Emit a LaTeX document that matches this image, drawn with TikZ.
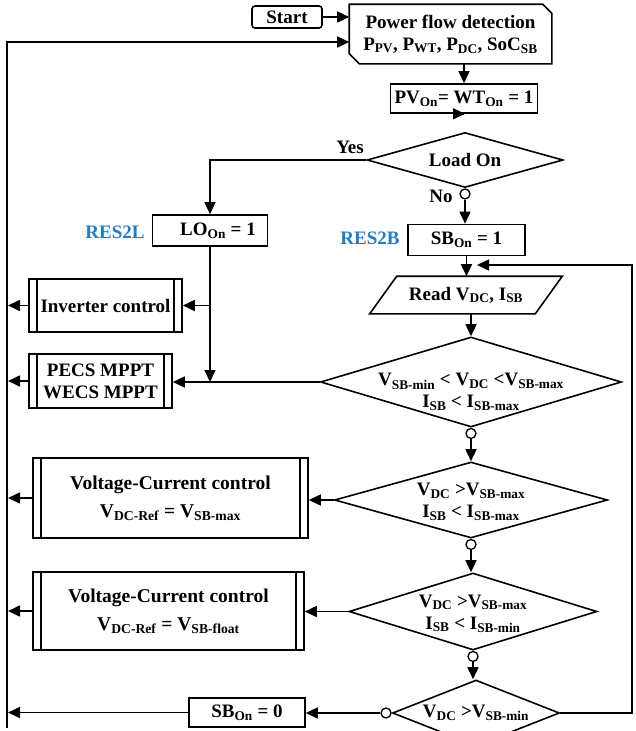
\documentclass[tikz,border=0pt]{standalone}
\usepackage{fontspec}
\setmainfont{Liberation Serif}
\usetikzlibrary{shapes.geometric,arrows.meta}
\definecolor{resblue}{RGB}{32,125,200}
\newcommand{\sbs}[1]{\textsubscript{#1}}
\begin{document}
\begin{tikzpicture}[x=1pt,y=-1pt,
  font=\fontsize{19}{22}\selectfont\bfseries,
  line width=1.6pt,
  arr/.style={-{Triangle[length=12pt,width=11pt]}},
  box/.style={draw, rectangle, inner sep=0pt, align=center},
  pbox/.style={box, path picture={\draw[line width=1.3pt]
      ([xshift=8pt]path picture bounding box.north west) -- ([xshift=8pt]path picture bounding box.south west)
      ([xshift=-8pt]path picture bounding box.north east) -- ([xshift=-8pt]path picture bounding box.south east);}},
  dia/.style={draw, diamond, inner sep=0pt},
  dtext/.style={align=center, inner sep=0pt},
  circ/.style={draw, circle, fill=white, inner sep=0pt, minimum size=10pt, line width=1.3pt},
  lbl/.style={inner sep=0pt},
  blue/.style={text=resblue, inner sep=0pt},
]
\useasboundingbox (0,0) rectangle (635,731);

% top
\node[box, rounded corners=3pt, minimum width=70pt, minimum height=22pt] (start) at (287,17) {Start};
\node[align=center, inner sep=0pt, minimum width=201pt, minimum height=58pt] (pf) at (450.5,34)
  {Power flow detection\\ P\sbs{PV}, P\sbs{WT}, P\sbs{DC}, SoC\sbs{SB}};
\draw (pf.north west) -- ([xshift=-9pt]pf.north east) -- ([yshift=-9pt]pf.north east)
  -- (pf.south east) -- ([xshift=10pt]pf.south west) -- ([yshift=10pt]pf.south west) -- cycle;

\node[box, minimum width=147pt, minimum height=29pt] (pv) at (464,98.5) {PV\sbs{On}= WT\sbs{On} = 1};
\node[dia, minimum width=196pt, minimum height=55pt, label={[lbl]center:Load On}] (load) at (465,160) {};

\node[box, minimum width=115pt, minimum height=31pt] (lo) at (210,230.5) {\hspace{16pt}LO\sbs{On} = 1};
\node[blue] (res2l) at (115,232) {RES2L};
\node[box, minimum width=117pt, minimum height=31pt] (sb) at (466.5,240) {SB\sbs{On} = 1};
\node[blue] (res2b) at (370,238) {RES2B};

\node[inner sep=0pt, minimum width=164pt, minimum height=36pt] (read) at (466,295) {Read V\sbs{DC}, I\sbs{SB}};
\draw ([xshift=13.5pt]read.north west) -- ([xshift=13.5pt]read.north east)
  -- ([xshift=-13.5pt]read.south east) -- ([xshift=-13.5pt]read.south west) -- cycle;

% diamonds
\node[dia, minimum width=301pt, minimum height=90pt] (d1) at (471,382) {};
\node[dtext] (t1) at ([yshift=-10pt]d1) {V\sbs{SB-min} < V\sbs{DC} <V\sbs{SB-max}\\ I\sbs{SB} < I\sbs{SB-max}};
\node[dia, minimum width=273pt, minimum height=76pt] (d2) at (471,500) {};
\node[dtext] (t2) at ([yshift=-2pt]d2) {V\sbs{DC} >V\sbs{SB-max}\\ I\sbs{SB} < I\sbs{SB-max}};
\node[dia, minimum width=248pt, minimum height=77pt] (d3) at (473,611.5) {};
\node[dtext] (t3) at ([yshift=-2pt]d3) {V\sbs{DC} >V\sbs{SB-max}\\ I\sbs{SB} < I\sbs{SB-min}};
\node[dia, minimum width=167pt, minimum height=66pt] (d4) at (476,713) {};
\node[dtext] (t4) at (d4) {V\sbs{DC} >V\sbs{SB-min}};

% left boxes
\node[pbox, minimum width=153pt, minimum height=53pt] (inv) at (105.5,305.5) {Inverter control};
\node[pbox, minimum width=143pt, minimum height=54pt] (pecs) at (100.5,381) {PECS MPPT\\WECS MPPT};
\node[pbox, font=\fontsize{19.5}{28}\selectfont\bfseries, minimum width=275pt, minimum height=80pt] (vc1) at (170.5,498)
  {Voltage-Current control\\ V\sbs{DC-Ref} = V\sbs{SB-max}};
\node[pbox, font=\fontsize{19.5}{28}\selectfont\bfseries, minimum width=271pt, minimum height=78pt] (vc2) at (168.5,611)
  {Voltage-Current control\\ V\sbs{DC-Ref} = V\sbs{SB-float}};
\node[box, minimum width=116pt, minimum height=29pt] (sb0) at (247,712.5) {SB\sbs{On} = 0};

% circles
\node[circ, anchor=north] (c0) at (load.south) {};
\node[circ, anchor=north] (c1) at (d1.south) {};
\node[circ, anchor=north] (c2) at (d2.south) {};
\node[circ, anchor=north] (c3) at (d3.south) {};
\node[circ, anchor=east] (c4) at (d4.west) {};

\node[lbl] (yes) at (350,147) {Yes};
\node[lbl] (no) at (441,196) {No};

% coordinates
\coordinate (lt) at (7,42);
\coordinate (lb) at (7,728);
\coordinate (rt) at (632,265);
\coordinate (fb) at (477,265);

% connectors
\draw[arr] (start.east) -- (start.east -| pf.west);
\draw[arr] (lb) -- (lt) -- (lt -| pf.west);
\draw[arr] (pf.south -| pv.north) -- (pv.north);
\draw[arr] (pv.south) -- (pv.south -| load.north);
\draw[arr] (load.west) -| (lo.north);
\draw[arr] (c0.south) -- (c0.south |- sb.north);
\draw[arr] (sb.south) -- (sb.south |- read.north);
\draw[arr] (d4.east) -| (rt) -- (fb);
\draw[arr] (read.south -| d1.north) -- (d1.north);
\draw[arr] (c1.south) -- (d2.north);
\draw[arr] (c2.south) -- (c2.south |- d3.north);
\draw[arr] (c3.south) -- (c3.south |- d4.north);

\draw[arr] (lo.south) -- (lo.south |- d1.west);
\draw[arr] (lo.south |- inv.east) -- (inv.east);
\draw[arr] (d1.west) -- (d1.west -| pecs.east);
\draw[arr] (d2.west) -- (d2.west -| vc1.east);
\draw[arr] (d3.west) -- (d3.west -| vc2.east);
\draw[arr] (c4.west) -- (c4.west -| sb0.east);

\draw[arr] (inv.west) -- ([xshift=1pt]inv.west -| lt);
\draw[arr] (pecs.west) -- ([xshift=1pt]pecs.west -| lt);
\draw[arr] (vc1.west) -- ([xshift=1pt]vc1.west -| lt);
\draw[arr] (vc2.west) -- ([xshift=1pt]vc2.west -| lt);
\draw[arr] (sb0.west) -- ([xshift=1pt]sb0.west -| lt);
\end{tikzpicture}
\end{document}
